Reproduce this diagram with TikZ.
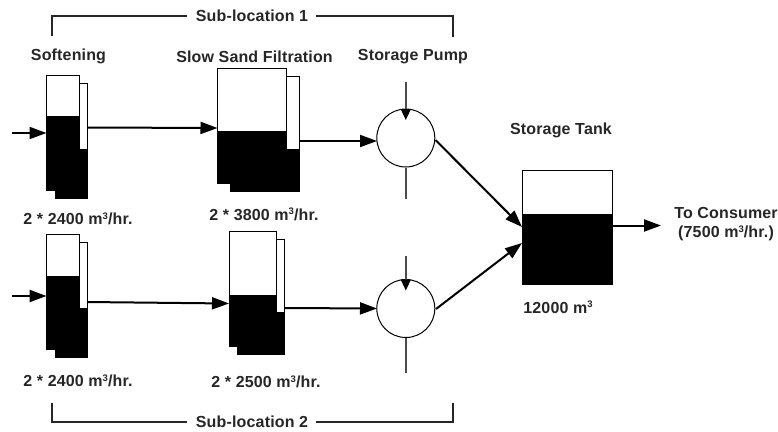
\documentclass[tikz,border=0pt]{standalone}
\usepackage{fontspec}
\setmainfont[LetterSpace=1]{Liberation Sans Bold}
\usetikzlibrary{arrows.meta}
\newcommand{\sq}{\raisebox{5.5pt}{\fontsize{9.5}{9.5}\selectfont 3}}
% #1 name, #2 x-left, #3 x-split, #4 x-right back, #5 x-left back, #6 top, #7 level, #8 strip bottom, #9 front bottom
\newcommand{\tankpair}[9]{%
  \pgfmathsetmacro{\bk}{#6+8}\pgfmathsetmacro{\bb}{#9+8}%
  \draw[tankline,fill=black] (#5,#9) rectangle (#4,\bb);
  \draw[tankline,fill=black] (#3,#8) rectangle (#4,#9);
  \draw[tankline,fill=white] (#3,\bk) rectangle (#4,#8);
  \draw[tankline,fill=white] (#2,#6) rectangle (#3,#7);
  \draw[tankline,fill=black] (#2,#7) rectangle (#3,#9);
  \coordinate (#1) at (#2,#6);
}
\tikzset{
  tankline/.style={draw=black,line width=1pt},
  label/.style={font=\fontsize{16}{19}\selectfont,inner sep=0pt,text=black!85},
  flow/.style={line width=2pt,-{Triangle[length=17pt,width=12pt]}},
  pumpc/.style={circle,draw=black,line width=1pt,minimum size=58pt,inner sep=0pt,fill=white},
  shaft/.style={draw=black!70,line width=1.5pt},
  shaftin/.style={shaft,-{Triangle[length=11pt,width=10pt,fill=black,color=black]}},
  bracket/.style={line width=2pt,black!85}
}
\begin{document}
\begin{tikzpicture}[x=1pt,y=-1pt]
\useasboundingbox (0,0) rectangle (778,431);
% labels
\node[label] (sub1) at (252,15.5) {Sub-location 1};
\node[label] (sub2) at (252,422) {Sub-location 2};
\node[label] (lsoft) at (68.5,56) {Softening};
\node[label] (lsand) at (254.5,56.5) {Slow Sand Filtration};
\node[label] (lpump) at (413,56.5) {Storage Pump};
\node[label] (ltank) at (561,130) {Storage Tank};
\node[label] (q1) at (78,219) {2 * 2400 m\sq/hr.};
\node[label] (q2) at (264,214.5) {2 * 3800 m\sq/hr.};
\node[label] (q3) at (78,381) {2 * 2400 m\sq/hr.};
\node[label] (q4) at (266,382) {2 * 2500 m\sq/hr.};
\node[label] (q5) at (558,307.5) {12000 m\sq};
\node[label,align=center] (cons) at (726,224.5) {To Consumer\\(7500 m\sq/hr.)};
% brackets
\coordinate (b1a) at (52,36); \coordinate (b1b) at (452.5,37);
\coordinate (b2a) at (52,403); \coordinate (b2b) at (452.5,403);
\draw[bracket] (b1a) |- ([xshift=-9pt]sub1.west);
\draw[bracket] (b1b) |- ([xshift=8pt]sub1.east);
\draw[bracket] (b2a) |- ([xshift=-9pt]sub2.west);
\draw[bracket] (b2b) |- ([xshift=8pt]sub2.east);
% tanks
\tankpair{s1}{46.5}{79}{87}{55}{75}{116}{149}{190}
\tankpair{f1}{217.5}{286.5}{299}{230}{68}{131.5}{149}{183}
\tankpair{s2}{46.5}{79}{87}{55}{234.7}{276}{308.7}{349.3}
\tankpair{f2}{229}{276}{284.5}{237.5}{231.7}{295}{312}{346.7}
% storage tank
\node[draw=black,line width=1pt,fill=white,minimum width=90pt,minimum height=114.5pt,inner sep=0pt,anchor=north west] (st) at (522.3,169.5) {};
\path[fill=black] (522.3,214) rectangle (612.3,284);
% pumps
\node[pumpc] (p1) at (405.8,138) {};
\node[pumpc] (p2) at (405.8,308.5) {};
\coordinate (p1t) at (405.8,82); \coordinate (p1b) at (405.8,199);
\coordinate (p2t) at (405.8,256); \coordinate (p2b) at (405.8,373);
\coordinate (p1tip) at (405.8,120); \coordinate (p2tip) at (405.8,290.5);
\draw[shaftin] (p1t) -- (p1tip);
\draw[shaftin] (p2t) -- (p2tip);
\draw[shaft] (p1.south) -- (p1b);
\draw[shaft] (p2.south) -- (p2b);
% connector ends
\coordinate (i1) at (12,133); \coordinate (i1e) at (46.5,133);
\coordinate (i2) at (12,296); \coordinate (i2e) at (46.5,296);
\coordinate (s1o) at (87,127.5); \coordinate (f1i) at (217.5,128);
\coordinate (s2o) at (87,302); \coordinate (f2i) at (229,303.5);
\coordinate (f1o) at (299,141); \coordinate (p1i) at (377,141);
\coordinate (f2o) at (284.5,308); \coordinate (p2i) at (377,308.5);
\coordinate (p1o) at (435.5,140); \coordinate (st1) at (522,227);
\coordinate (p2o) at (436,309); \coordinate (st2) at (522,243);
\coordinate (sto) at (612.3,225.5); \coordinate (cone) at (661,225.5);
\draw[flow] (i1) -- (i1e);
\draw[flow] (i2) -- (i2e);
\draw[flow] (s1o) -- (f1i);
\draw[flow] (s2o) -- (f2i);
\draw[flow] (f1o) -- (p1i);
\draw[flow] (f2o) -- (p2i);
\draw[flow] (p1o) -- (st1);
\draw[flow] (p2o) -- (st2);
\draw[flow] (sto) -- (cone);
\end{tikzpicture}
\end{document}
